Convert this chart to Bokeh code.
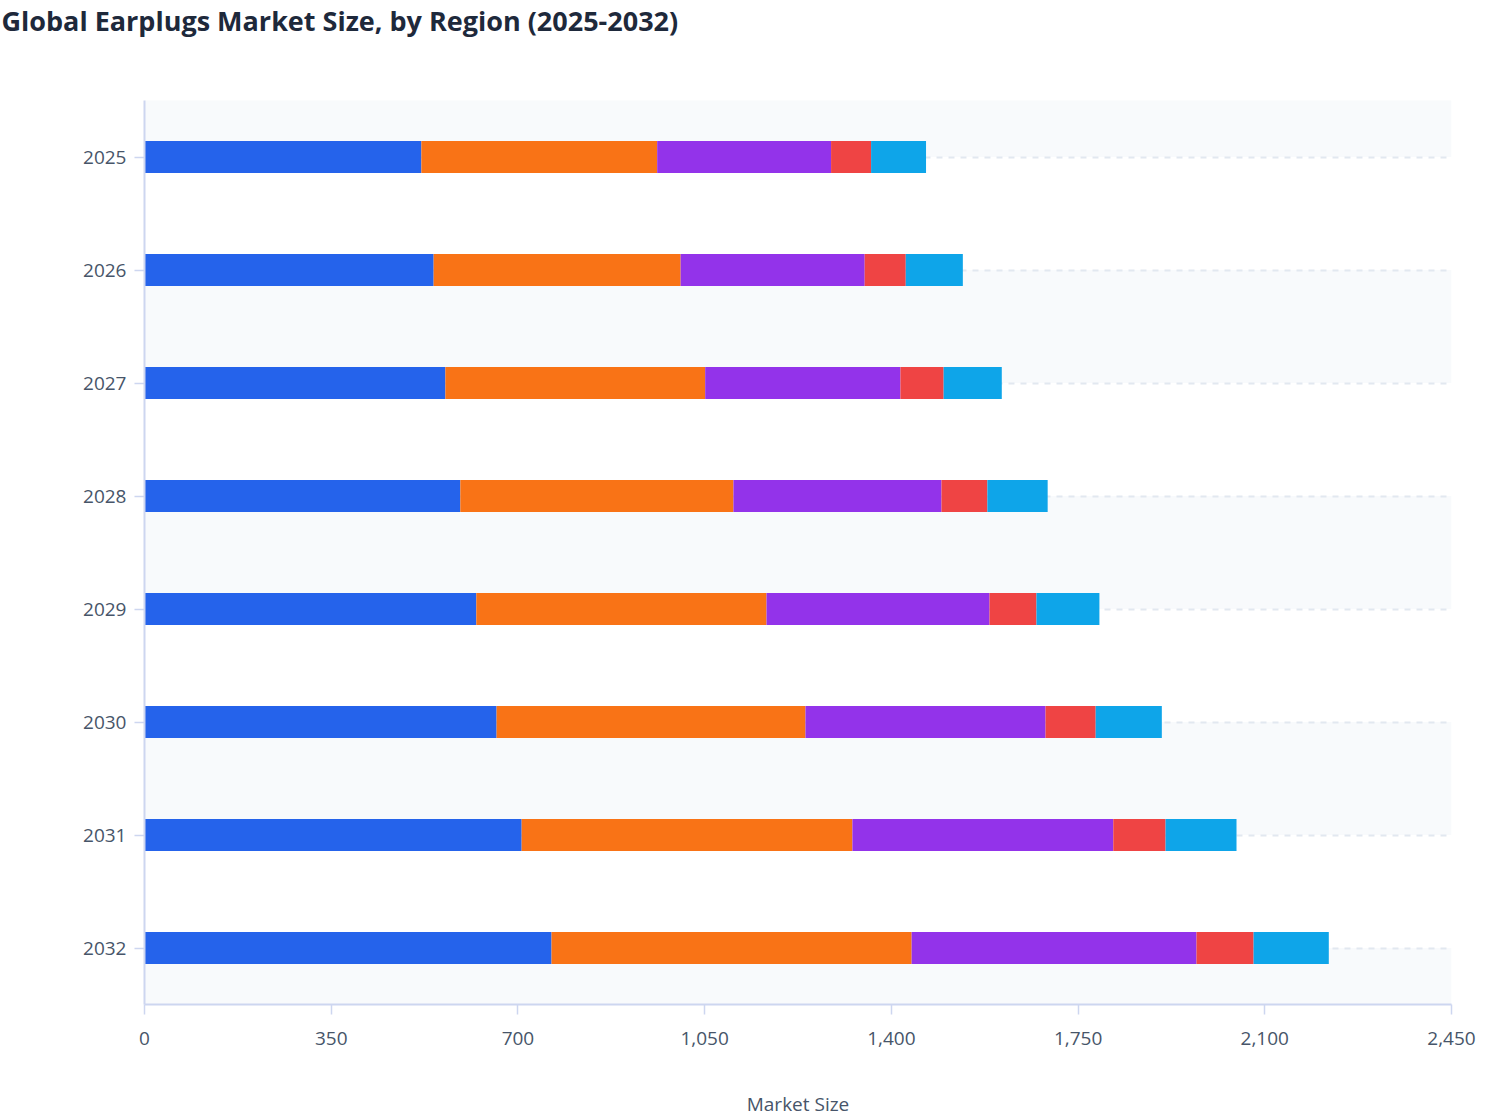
from bokeh.plotting import figure
from bokeh.models import Range1d, FixedTicker, NumeralTickFormatter, ColumnDataSource, Title
from bokeh.embed import file_html
from bokeh.resources import INLINE

# ---- data ----
title_text = "Global Earplugs Market Size, by Region (2025-2032)"
years = ["2025", "2026", "2027", "2028", "2029", "2030", "2031", "2032"]
regions = ["North America", "Europe", "Asia Pacific", "Latin America", "Middle East & Africa"]
north_america = [519, 542, 564, 592, 622, 660, 707, 763]
europe = [442, 463, 487, 512, 544, 579, 620, 675]
asia_pacific = [326, 345, 366, 390, 418, 450, 489, 534]
latin_america = [75, 77, 81, 86, 88, 94, 98, 107]
mea = [103, 107, 109, 113, 118, 124, 133, 141]
x_ticks = [0, 350, 700, 1050, 1400, 1750, 2100, 2450]
colors = ["#2563eb", "#f97316", "#9333ea", "#ef4444", "#0ea5e9"]

FONT = "Open Sans"
TICK_COLOR = "#475569"
AXIS_COLOR = "#cdd6f0"

pos = list(range(len(years)))
src = ColumnDataSource(dict(
    y=pos,
    **{r: v for r, v in zip(regions, [north_america, europe, asia_pacific, latin_america, mea])}
))

p = figure(
    title=None,
    width=1500, height=1120,
    x_range=Range1d(0, x_ticks[-1]),
    y_range=Range1d(len(years) - 0.5, -0.5),
    output_backend="svg", toolbar_location=None,
    min_border_left=144, min_border_right=49, min_border_top=100, min_border_bottom=116,
    background_fill_color="white", border_fill_color="white",
    outline_line_color=None,
)

# alternating bands between category centres
band_centers = [i + 0.5 for i in range(-1, len(years), 2)]
p.rect(x=x_ticks[-1] / 2, y=band_centers, width=x_ticks[-1], height=1,
       fill_color="#f8fafc", line_color=None, level="image")

p.hbar_stack(regions, y="y", height=0.283, color=colors, source=src, line_color=None)

# spacer between title and plot area, then the title at the very top
p.add_layout(Title(text=" ", text_font_size="1px", standoff=57), "above")
p.add_layout(Title(text=title_text, text_font=FONT, text_font_size="27px",
                   text_font_style="bold", text_color="#1e293b",
                   align="left", offset=-143, standoff=0, vertical_align="top"), "above")

# axes
p.xaxis.ticker = FixedTicker(ticks=x_ticks)
p.xaxis.formatter = NumeralTickFormatter(format="0,0")
p.xaxis.axis_label = "Market Size"
p.xaxis.axis_label_standoff = 43
p.yaxis.ticker = FixedTicker(ticks=pos)
p.yaxis.major_label_overrides = {i: y for i, y in enumerate(years)}

for ax in (p.xaxis, p.yaxis):
    ax.axis_line_color = AXIS_COLOR
    ax.axis_line_width = 2
    ax.major_tick_line_color = AXIS_COLOR
    ax.major_tick_line_width = 1.5
    ax.major_tick_out = 10
    ax.major_tick_in = 0
    ax.minor_tick_line_color = None
    ax.major_label_text_font = FONT
    ax.major_label_text_font_size = "19px"
    ax.major_label_text_color = TICK_COLOR
    ax.axis_label_text_font = FONT
    ax.axis_label_text_font_size = "19px"
    ax.axis_label_text_font_style = "normal"
    ax.axis_label_text_color = TICK_COLOR

p.xaxis.major_label_standoff = 17
p.yaxis.major_label_standoff = 8

p.xgrid.grid_line_color = None
p.ygrid.ticker = FixedTicker(ticks=[-0.5] + pos)
p.ygrid.grid_line_color = "#e2e8f0"
p.ygrid.grid_line_width = 2
p.ygrid.grid_line_dash = "6 6"

open("out.html", "w").write(file_html(p, INLINE))
